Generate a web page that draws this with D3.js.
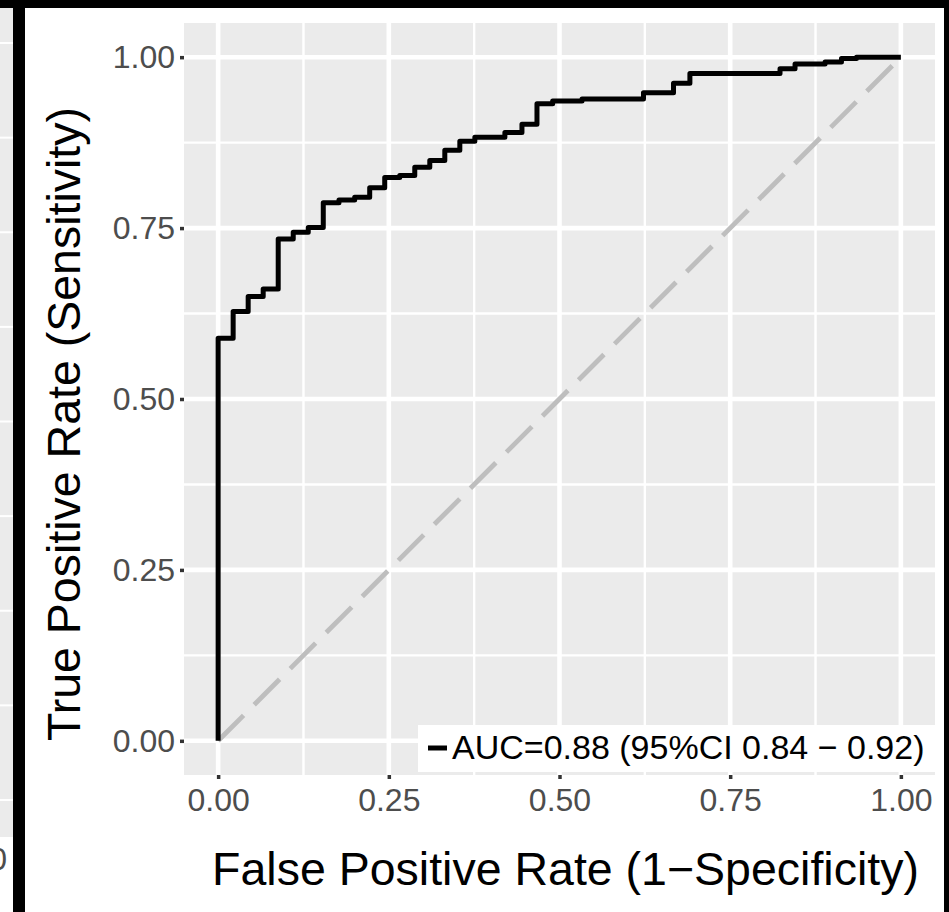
<!DOCTYPE html>
<html>
<head>
<meta charset="utf-8">
<script src="https://cdn.jsdelivr.net/npm/d3@7"></script>
<style>
  body { margin: 0; background: #fff; }
  svg { display: block; font-family: "Liberation Sans", Arial, Helvetica, sans-serif; }
</style>
</head>
<body>
<svg id="roc" width="949" height="912"></svg>
<script>
// ROC step points (curve goes right, then up)
const fpr = [0, 0, 0.022, 0.044, 0.066, 0.088, 0.110, 0.132, 0.154, 0.177, 0.200, 0.222, 0.244,
             0.266, 0.288, 0.310, 0.332, 0.354, 0.376, 0.420, 0.445, 0.467, 0.490, 0.533, 0.623,
             0.667, 0.691, 0.823, 0.845, 0.889, 0.913, 0.935, 1.0];
const tpr = [0, 0.589, 0.628, 0.650, 0.661, 0.734, 0.744, 0.751, 0.787, 0.791, 0.795, 0.809, 0.824,
             0.827, 0.839, 0.849, 0.864, 0.877, 0.883, 0.890, 0.902, 0.932, 0.936, 0.939, 0.948,
             0.962, 0.976, 0.983, 0.990, 0.993, 0.998, 1.0, 1.0];

const majorTicks = [0, 0.25, 0.5, 0.75, 1];
const minorTicks = [0.125, 0.375, 0.625, 0.875];
const tickLabels = ["0.00", "0.25", "0.50", "0.75", "1.00"];
const chanceLine = [0, 1];

const legendLabel = "AUC=0.88 (95%CI 0.84 \u2212 0.92)";
const xTitle = "False Positive Rate (1\u2212Specificity)";
const yTitle = "True Positive Rate (Sensitivity)";

class rocCurveViz {
    constructor(_config) {
        this.config = {
            parentElement: _config.parentElement,
            containerWidth: _config.containerWidth,
            containerHeight: _config.containerHeight,
        }
        this.config.margin = _config.margin || { top: 23, bottom: 137, right: 14, left: 184 };
        this.data = _config.data;
        this.initVis();
    }

    initVis() {
        let vis = this;
        vis.width = vis.config.containerWidth - vis.config.margin.left - vis.config.margin.right;
        vis.height = vis.config.containerHeight - vis.config.margin.top - vis.config.margin.bottom;
        vis.svg = d3.select(`svg${vis.config.parentElement}`);

        // picture frame + sliver of the neighbouring panel on the left
        const frame = vis.svg.append('g').attr('class', 'frame');
        frame.append('rect').attr('x', 0).attr('y', 8).attr('width', 13).attr('height', 829).attr('fill', '#ebebeb');
        const sliver = d3.scaleLinear().domain([0, 8]).range([43, 800]);
        frame.selectAll('line.sliver')
            .data(d3.range(0, 9))
            .join('line')
            .attr('class', 'sliver')
            .attr('x1', 0).attr('x2', 13)
            .attr('y1', d => sliver(d)).attr('y2', d => sliver(d))
            .attr('stroke', '#fff').attr('stroke-width', 2);
        frame.append('text').attr('x', 7).attr('y', 870)
            .attr('text-anchor', 'end').attr('font-size', 32).attr('fill', '#4d4d4d').text('0');
        frame.append('rect').attr('x', 0).attr('y', 0).attr('width', 949).attr('height', 8).attr('fill', '#000');
        frame.append('rect').attr('x', 13).attr('y', 0).attr('width', 12).attr('height', 912).attr('fill', '#000');
        frame.append('rect').attr('x', 944).attr('y', 0).attr('width', 5).attr('height', 912).attr('fill', '#000');

        vis.g = vis.svg.append('g')
            .attr('transform', `translate(${vis.config.margin.left},${vis.config.margin.top})`)
            .attr('class', 'roc');

        // ggplot-style 5% expansion on both axes
        vis.xScale = d3.scaleLinear().domain([-0.05, 1.05]).range([0, vis.width]);
        vis.yScale = d3.scaleLinear().domain([-0.05, 1.05]).range([vis.height, 0]);

        vis.g.append('rect')
            .attr('width', vis.width).attr('height', vis.height)
            .attr('fill', '#ebebeb');

        const grid = vis.g.append('g').attr('class', 'grid').attr('stroke', '#fff');
        grid.selectAll('line.vminor').data(minorTicks).join('line')
            .attr('class', 'vminor')
            .attr('x1', d => vis.xScale(d)).attr('x2', d => vis.xScale(d))
            .attr('y1', 0).attr('y2', vis.height).attr('stroke-width', 2.4);
        grid.selectAll('line.hminor').data(minorTicks).join('line')
            .attr('class', 'hminor')
            .attr('y1', d => vis.yScale(d)).attr('y2', d => vis.yScale(d))
            .attr('x1', 0).attr('x2', vis.width).attr('stroke-width', 2.4);
        grid.selectAll('line.vmajor').data(majorTicks).join('line')
            .attr('class', 'vmajor')
            .attr('x1', d => vis.xScale(d)).attr('x2', d => vis.xScale(d))
            .attr('y1', 0).attr('y2', vis.height).attr('stroke-width', 4.6);
        grid.selectAll('line.hmajor').data(majorTicks).join('line')
            .attr('class', 'hmajor')
            .attr('y1', d => vis.yScale(d)).attr('y2', d => vis.yScale(d))
            .attr('x1', 0).attr('x2', vis.width).attr('stroke-width', 4.6);

        const fmt = (d, i) => tickLabels[i];
        vis.xAxis = vis.g.append('g')
            .attr('class', 'x-axis')
            .attr('transform', `translate(0,${vis.height})`)
            .call(d3.axisBottom(vis.xScale).tickValues(majorTicks).tickFormat(fmt).tickSize(4).tickPadding(9));
        vis.yAxis = vis.g.append('g')
            .attr('class', 'y-axis')
            .call(d3.axisLeft(vis.yScale).tickValues(majorTicks).tickFormat(fmt).tickSize(4).tickPadding(5));

        vis.g.selectAll('.domain').remove();
        vis.g.selectAll('.x-axis line, .y-axis line').attr('stroke', '#333').attr('stroke-width', 3.5);
        vis.g.selectAll('.x-axis text, .y-axis text')
            .attr('fill', '#4d4d4d')
            .attr('font-size', 32)
            .attr('font-family', '"Liberation Sans", Arial, Helvetica, sans-serif');

        vis.svg.append('text')
            .attr('class', 'x-title')
            .attr('x', vis.config.margin.left + vis.width / 2 + 6)
            .attr('y', 885)
            .attr('text-anchor', 'middle')
            .attr('font-size', 46.5)
            .attr('fill', '#000')
            .text(xTitle);
        vis.svg.append('text')
            .attr('class', 'y-title')
            .attr('transform', `translate(80, 424) rotate(-90)`)
            .attr('text-anchor', 'middle')
            .attr('font-size', 46.5)
            .attr('fill', '#000')
            .text(yTitle);
    }

    render() {
        let vis = this;

        vis.g.append('line')
            .attr('class', 'chance')
            .attr('x1', vis.xScale(chanceLine[0])).attr('y1', vis.yScale(chanceLine[0]))
            .attr('x2', vis.xScale(chanceLine[1])).attr('y2', vis.yScale(chanceLine[1]))
            .attr('stroke', '#bebebe')
            .attr('stroke-width', 4.8)
            .attr('stroke-dasharray', '36,15');

        const line = d3.line()
            .curve(d3.curveStepAfter)
            .x(d => vis.xScale(d.fpr))
            .y(d => vis.yScale(d.tpr));

        vis.g.append('path')
            .datum(vis.data)
            .attr('class', 'roc-line')
            .attr('d', line)
            .attr('fill', 'none')
            .attr('stroke', '#000')
            .attr('stroke-width', 5)
            .attr('stroke-linejoin', 'round');

        // legend sits in the bottom-right corner of the panel
        const legend = vis.g.append('g')
            .attr('class', 'legend')
            .attr('transform', `translate(${vis.width - 517},${vis.height - 50})`);
        legend.append('rect').attr('width', 517).attr('height', 47).attr('fill', '#fff');
        legend.append('line')
            .attr('x1', 10).attr('x2', 29).attr('y1', 23).attr('y2', 23)
            .attr('stroke', '#000').attr('stroke-width', 5);
        legend.append('text')
            .attr('x', 34).attr('y', 34)
            .attr('font-size', 34)
            .attr('fill', '#000')
            .text(legendLabel);
    }
}

const rocData = fpr.map((d, i) => ({ fpr: d, tpr: tpr[i] }));
const viz = new rocCurveViz({
    parentElement: '#roc',
    containerWidth: 949,
    containerHeight: 912,
    data: rocData
});
viz.render();
</script>
</body>
</html>
